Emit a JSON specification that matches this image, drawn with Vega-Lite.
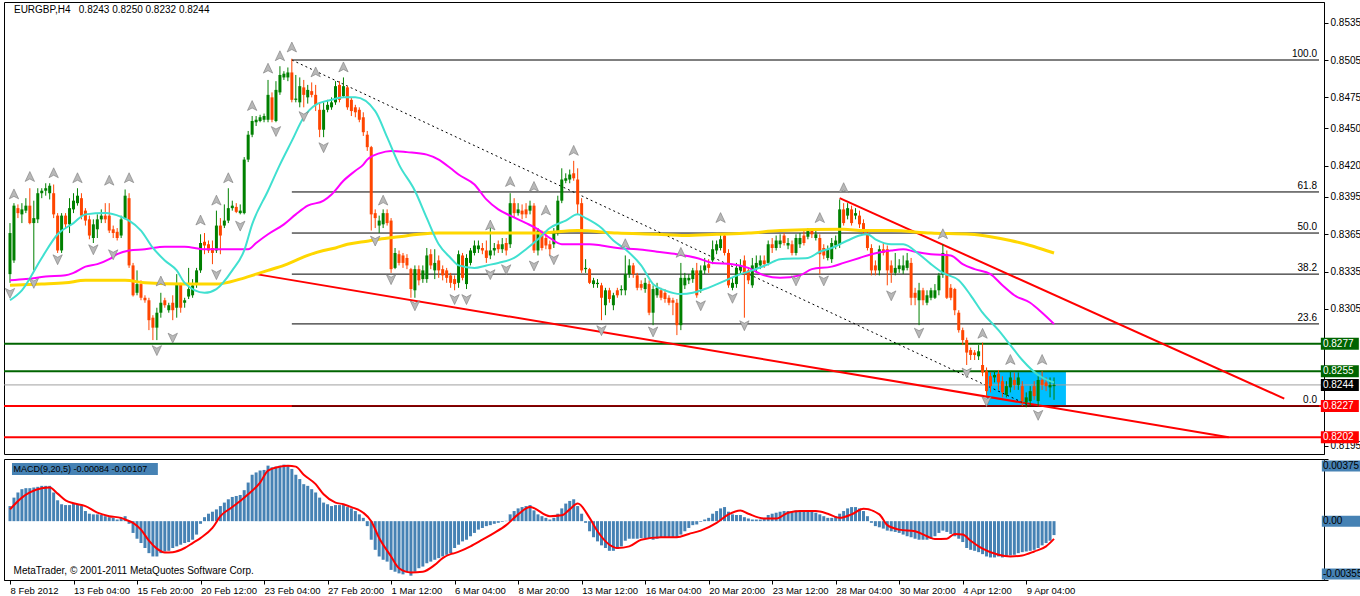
{
"$schema":"https://vega.github.io/schema/vega-lite/v6.json",
"background":"white",
"padding":{"left":2,"top":1,"right":0,"bottom":0},
"spacing":3,
"config":{"view":{"stroke":"#000000","strokeWidth":1},"axis":{"labelFont":"Liberation Sans","labelFontSize":10,"labelColor":"#000000","domainColor":"#000000","tickColor":"#000000","grid":false},"text":{"font":"Liberation Sans","fontSize":10}},
"datasets":{
"bars":[
{"i":0,"o":0.8333,"h":0.8374,"l":0.8326,"c":0.8366,"m":0.00091},
{"i":1,"o":0.8344,"h":0.8390,"l":0.8342,"c":0.8388,"m":0.00142},
{"i":2,"o":0.8386,"h":0.8389,"l":0.8378,"c":0.8382,"m":0.00173},
{"i":3,"o":0.8381,"h":0.8390,"l":0.8374,"c":0.8385,"m":0.00193},
{"i":4,"o":0.8384,"h":0.8394,"l":0.8382,"c":0.8388,"m":0.00199},
{"i":5,"o":0.8388,"h":0.8402,"l":0.8373,"c":0.8374,"m":0.00199},
{"i":6,"o":0.8374,"h":0.8392,"l":0.8336,"c":0.8378,"m":0.00203},
{"i":7,"o":0.8377,"h":0.8402,"l":0.8374,"c":0.8398,"m":0.00207},
{"i":8,"o":0.8398,"h":0.8402,"l":0.8394,"c":0.8400,"m":0.00213},
{"i":9,"o":0.8400,"h":0.8406,"l":0.8396,"c":0.8402,"m":0.00213},
{"i":10,"o":0.8398,"h":0.8406,"l":0.8393,"c":0.8404,"m":0.00213},
{"i":11,"o":0.8398,"h":0.8405,"l":0.8378,"c":0.8381,"m":0.00173},
{"i":12,"o":0.8380,"h":0.8382,"l":0.8350,"c":0.8352,"m":0.00126},
{"i":13,"o":0.8352,"h":0.8382,"l":0.8350,"c":0.8380,"m":0.00102},
{"i":14,"o":0.8380,"h":0.8382,"l":0.8370,"c":0.8373,"m":0.00097},
{"i":15,"o":0.8373,"h":0.8394,"l":0.8366,"c":0.8386,"m":0.00097},
{"i":16,"o":0.8385,"h":0.8398,"l":0.8382,"c":0.8392,"m":0.00106},
{"i":17,"o":0.8390,"h":0.8402,"l":0.8388,"c":0.8396,"m":0.00102},
{"i":18,"o":0.8394,"h":0.8398,"l":0.8377,"c":0.8380,"m":0.00091},
{"i":19,"o":0.8384,"h":0.8386,"l":0.8372,"c":0.8376,"m":0.00061},
{"i":20,"o":0.8377,"h":0.8380,"l":0.8361,"c":0.8364,"m":0.00045},
{"i":21,"o":0.8362,"h":0.8377,"l":0.8358,"c":0.8373,"m":0.00041},
{"i":22,"o":0.8369,"h":0.8381,"l":0.8362,"c":0.8377,"m":0.00041},
{"i":23,"o":0.8377,"h":0.8385,"l":0.8374,"c":0.8380,"m":0.00037},
{"i":24,"o":0.8380,"h":0.8390,"l":0.8374,"c":0.8377,"m":0.00030},
{"i":25,"o":0.8380,"h":0.8390,"l":0.8366,"c":0.8368,"m":0.00024},
{"i":26,"o":0.8369,"h":0.8372,"l":0.8362,"c":0.8366,"m":0.00020},
{"i":27,"o":0.8367,"h":0.8370,"l":0.8360,"c":0.8362,"m":0.00010},
{"i":28,"o":0.8364,"h":0.8380,"l":0.8362,"c":0.8377,"m":0.00020},
{"i":29,"o":0.8378,"h":0.8401,"l":0.8377,"c":0.8396,"m":0.00030},
{"i":30,"o":0.8394,"h":0.8398,"l":0.8338,"c":0.8340,"m":-0.00016},
{"i":31,"o":0.8340,"h":0.8342,"l":0.8315,"c":0.8316,"m":-0.00071},
{"i":32,"o":0.8318,"h":0.8336,"l":0.8316,"c":0.8325,"m":-0.00106},
{"i":33,"o":0.8325,"h":0.8328,"l":0.8312,"c":0.8314,"m":-0.00132},
{"i":34,"o":0.8314,"h":0.8316,"l":0.8310,"c":0.8312,"m":-0.00162},
{"i":35,"o":0.8312,"h":0.8314,"l":0.8288,"c":0.8296,"m":-0.00193},
{"i":36,"o":0.8298,"h":0.8300,"l":0.8280,"c":0.8290,"m":-0.00213},
{"i":37,"o":0.8290,"h":0.8306,"l":0.8280,"c":0.8302,"m":-0.00213},
{"i":38,"o":0.8302,"h":0.8318,"l":0.8298,"c":0.8310,"m":-0.00193},
{"i":39,"o":0.8312,"h":0.8314,"l":0.8306,"c":0.8308,"m":-0.00183},
{"i":40,"o":0.8304,"h":0.8310,"l":0.8302,"c":0.8308,"m":-0.00179},
{"i":41,"o":0.8310,"h":0.8316,"l":0.8296,"c":0.8304,"m":-0.00162},
{"i":42,"o":0.8306,"h":0.8333,"l":0.8298,"c":0.8325,"m":-0.00152},
{"i":43,"o":0.8325,"h":0.8326,"l":0.8302,"c":0.8306,"m":-0.00142},
{"i":44,"o":0.8310,"h":0.8314,"l":0.8306,"c":0.8312,"m":-0.00132},
{"i":45,"o":0.8315,"h":0.8338,"l":0.8313,"c":0.8321,"m":-0.00126},
{"i":46,"o":0.8316,"h":0.8329,"l":0.8314,"c":0.8324,"m":-0.00112},
{"i":47,"o":0.8325,"h":0.8338,"l":0.8322,"c":0.8336,"m":-0.00081},
{"i":48,"o":0.8336,"h":0.8365,"l":0.8334,"c":0.8358,"m":-0.00016},
{"i":49,"o":0.8359,"h":0.8366,"l":0.8349,"c":0.8356,"m":0.00024},
{"i":50,"o":0.8357,"h":0.8360,"l":0.8350,"c":0.8352,"m":0.00045},
{"i":51,"o":0.8354,"h":0.8360,"l":0.8341,"c":0.8350,"m":0.00057},
{"i":52,"o":0.8352,"h":0.8384,"l":0.8350,"c":0.8372,"m":0.00071},
{"i":53,"o":0.8372,"h":0.8378,"l":0.8349,"c":0.8364,"m":0.00091},
{"i":54,"o":0.8372,"h":0.8389,"l":0.8370,"c":0.8376,"m":0.00112},
{"i":55,"o":0.8376,"h":0.8402,"l":0.8374,"c":0.8386,"m":0.00132},
{"i":56,"o":0.8386,"h":0.8392,"l":0.8384,"c":0.8388,"m":0.00146},
{"i":57,"o":0.8387,"h":0.8390,"l":0.8382,"c":0.8383,"m":0.00152},
{"i":58,"o":0.8382,"h":0.8389,"l":0.8381,"c":0.8384,"m":0.00158},
{"i":59,"o":0.8382,"h":0.8427,"l":0.8381,"c":0.8425,"m":0.00187},
{"i":60,"o":0.8425,"h":0.8448,"l":0.8423,"c":0.8445,"m":0.00233},
{"i":61,"o":0.8445,"h":0.8460,"l":0.8443,"c":0.8456,"m":0.00280},
{"i":62,"o":0.8455,"h":0.8460,"l":0.8452,"c":0.8457,"m":0.00294},
{"i":63,"o":0.8456,"h":0.8461,"l":0.8455,"c":0.8459,"m":0.00305},
{"i":64,"o":0.8457,"h":0.8462,"l":0.8455,"c":0.8460,"m":0.00309},
{"i":65,"o":0.8457,"h":0.8489,"l":0.8455,"c":0.8477,"m":0.00335},
{"i":66,"o":0.8475,"h":0.8479,"l":0.8455,"c":0.8457,"m":0.00325},
{"i":67,"o":0.8456,"h":0.8488,"l":0.8455,"c":0.8481,"m":0.00329},
{"i":68,"o":0.8479,"h":0.8500,"l":0.8477,"c":0.8493,"m":0.00335},
{"i":69,"o":0.8491,"h":0.8496,"l":0.8489,"c":0.8494,"m":0.00341},
{"i":70,"o":0.8491,"h":0.8499,"l":0.8488,"c":0.8495,"m":0.00335},
{"i":71,"o":0.8495,"h":0.8506,"l":0.8471,"c":0.8473,"m":0.00315},
{"i":72,"o":0.8473,"h":0.8493,"l":0.8471,"c":0.8474,"m":0.00280},
{"i":73,"o":0.8471,"h":0.8491,"l":0.8467,"c":0.8484,"m":0.00254},
{"i":74,"o":0.8483,"h":0.8489,"l":0.8467,"c":0.8477,"m":0.00223},
{"i":75,"o":0.8475,"h":0.8485,"l":0.8470,"c":0.8481,"m":0.00213},
{"i":76,"o":0.8480,"h":0.8487,"l":0.8475,"c":0.8477,"m":0.00193},
{"i":77,"o":0.8477,"h":0.8485,"l":0.8464,"c":0.8469,"m":0.00173},
{"i":78,"o":0.8465,"h":0.8471,"l":0.8443,"c":0.8449,"m":0.00142},
{"i":79,"o":0.8449,"h":0.8471,"l":0.8443,"c":0.8465,"m":0.00112},
{"i":80,"o":0.8465,"h":0.8473,"l":0.8463,"c":0.8469,"m":0.00102},
{"i":81,"o":0.8467,"h":0.8475,"l":0.8465,"c":0.8471,"m":0.00091},
{"i":82,"o":0.8471,"h":0.8488,"l":0.8469,"c":0.8484,"m":0.00097},
{"i":83,"o":0.8485,"h":0.8488,"l":0.8471,"c":0.8473,"m":0.00097},
{"i":84,"o":0.8476,"h":0.8491,"l":0.8475,"c":0.8484,"m":0.00097},
{"i":85,"o":0.8483,"h":0.8484,"l":0.8465,"c":0.8467,"m":0.00085},
{"i":86,"o":0.8473,"h":0.8475,"l":0.8460,"c":0.8464,"m":0.00077},
{"i":87,"o":0.8467,"h":0.8469,"l":0.8459,"c":0.8463,"m":0.00061},
{"i":88,"o":0.8465,"h":0.8467,"l":0.8455,"c":0.8457,"m":0.00041},
{"i":89,"o":0.8459,"h":0.8463,"l":0.8444,"c":0.8447,"m":0.00020},
{"i":90,"o":0.8445,"h":0.8448,"l":0.8432,"c":0.8435,"m":-0.00030},
{"i":91,"o":0.8435,"h":0.8436,"l":0.8368,"c":0.8381,"m":-0.00112},
{"i":92,"o":0.8382,"h":0.8385,"l":0.8370,"c":0.8378,"m":-0.00173},
{"i":93,"o":0.8372,"h":0.8380,"l":0.8366,"c":0.8376,"m":-0.00213},
{"i":94,"o":0.8373,"h":0.8385,"l":0.8370,"c":0.8382,"m":-0.00233},
{"i":95,"o":0.8382,"h":0.8385,"l":0.8372,"c":0.8374,"m":-0.00244},
{"i":96,"o":0.8376,"h":0.8378,"l":0.8334,"c":0.8337,"m":-0.00294},
{"i":97,"o":0.8338,"h":0.8354,"l":0.8337,"c":0.8350,"m":-0.00305},
{"i":98,"o":0.8349,"h":0.8352,"l":0.8340,"c":0.8342,"m":-0.00315},
{"i":99,"o":0.8348,"h":0.8350,"l":0.8338,"c":0.8342,"m":-0.00321},
{"i":100,"o":0.8346,"h":0.8349,"l":0.8337,"c":0.8340,"m":-0.00309},
{"i":101,"o":0.8337,"h":0.8338,"l":0.8314,"c":0.8321,"m":-0.00329},
{"i":102,"o":0.8320,"h":0.8340,"l":0.8314,"c":0.8337,"m":-0.00305},
{"i":103,"o":0.8337,"h":0.8340,"l":0.8324,"c":0.8328,"m":-0.00284},
{"i":104,"o":0.8329,"h":0.8340,"l":0.8326,"c":0.8336,"m":-0.00274},
{"i":105,"o":0.8329,"h":0.8354,"l":0.8326,"c":0.8348,"m":-0.00254},
{"i":106,"o":0.8349,"h":0.8353,"l":0.8337,"c":0.8340,"m":-0.00244},
{"i":107,"o":0.8336,"h":0.8353,"l":0.8329,"c":0.8342,"m":-0.00233},
{"i":108,"o":0.8344,"h":0.8348,"l":0.8330,"c":0.8336,"m":-0.00223},
{"i":109,"o":0.8337,"h":0.8340,"l":0.8328,"c":0.8332,"m":-0.00213},
{"i":110,"o":0.8336,"h":0.8338,"l":0.8326,"c":0.8330,"m":-0.00203},
{"i":111,"o":0.8332,"h":0.8334,"l":0.8322,"c":0.8326,"m":-0.00193},
{"i":112,"o":0.8329,"h":0.8332,"l":0.8320,"c":0.8325,"m":-0.00162},
{"i":113,"o":0.8326,"h":0.8352,"l":0.8322,"c":0.8349,"m":-0.00142},
{"i":114,"o":0.8348,"h":0.8350,"l":0.8328,"c":0.8330,"m":-0.00122},
{"i":115,"o":0.8325,"h":0.8349,"l":0.8321,"c":0.8346,"m":-0.00112},
{"i":116,"o":0.8342,"h":0.8354,"l":0.8340,"c":0.8352,"m":-0.00091},
{"i":117,"o":0.8350,"h":0.8360,"l":0.8348,"c":0.8356,"m":-0.00071},
{"i":118,"o":0.8353,"h":0.8360,"l":0.8350,"c":0.8356,"m":-0.00051},
{"i":119,"o":0.8354,"h":0.8358,"l":0.8349,"c":0.8352,"m":-0.00041},
{"i":120,"o":0.8352,"h":0.8360,"l":0.8342,"c":0.8346,"m":-0.00030},
{"i":121,"o":0.8348,"h":0.8370,"l":0.8345,"c":0.8352,"m":-0.00024},
{"i":122,"o":0.8352,"h":0.8358,"l":0.8348,"c":0.8354,"m":-0.00016},
{"i":123,"o":0.8357,"h":0.8360,"l":0.8350,"c":0.8353,"m":-0.00010},
{"i":124,"o":0.8353,"h":0.8362,"l":0.8350,"c":0.8357,"m":-0.00004},
{"i":125,"o":0.8358,"h":0.8362,"l":0.8348,"c":0.8352,"m":0.00002},
{"i":126,"o":0.8357,"h":0.8398,"l":0.8354,"c":0.8390,"m":0.00041},
{"i":127,"o":0.8390,"h":0.8394,"l":0.8378,"c":0.8382,"m":0.00061},
{"i":128,"o":0.8382,"h":0.8390,"l":0.8380,"c":0.8385,"m":0.00077},
{"i":129,"o":0.8384,"h":0.8389,"l":0.8377,"c":0.8381,"m":0.00085},
{"i":130,"o":0.8385,"h":0.8390,"l":0.8378,"c":0.8381,"m":0.00091},
{"i":131,"o":0.8384,"h":0.8392,"l":0.8381,"c":0.8388,"m":0.00097},
{"i":132,"o":0.8388,"h":0.8390,"l":0.8350,"c":0.8352,"m":0.00065},
{"i":133,"o":0.8352,"h":0.8370,"l":0.8348,"c":0.8368,"m":0.00041},
{"i":134,"o":0.8365,"h":0.8368,"l":0.8352,"c":0.8354,"m":0.00030},
{"i":135,"o":0.8362,"h":0.8365,"l":0.8353,"c":0.8356,"m":0.00020},
{"i":136,"o":0.8357,"h":0.8360,"l":0.8348,"c":0.8353,"m":0.00010},
{"i":137,"o":0.8357,"h":0.8370,"l":0.8354,"c":0.8366,"m":0.00020},
{"i":138,"o":0.8366,"h":0.8396,"l":0.8364,"c":0.8392,"m":0.00045},
{"i":139,"o":0.8392,"h":0.8418,"l":0.8390,"c":0.8409,"m":0.00077},
{"i":140,"o":0.8408,"h":0.8414,"l":0.8406,"c":0.8410,"m":0.00106},
{"i":141,"o":0.8409,"h":0.8417,"l":0.8406,"c":0.8413,"m":0.00122},
{"i":142,"o":0.8414,"h":0.8424,"l":0.8408,"c":0.8410,"m":0.00132},
{"i":143,"o":0.8409,"h":0.8418,"l":0.8381,"c":0.8389,"m":0.00091},
{"i":144,"o":0.8390,"h":0.8394,"l":0.8334,"c":0.8336,"m":0.00045},
{"i":145,"o":0.8337,"h":0.8345,"l":0.8334,"c":0.8338,"m":-0.00010},
{"i":146,"o":0.8337,"h":0.8338,"l":0.8325,"c":0.8326,"m":-0.00061},
{"i":147,"o":0.8325,"h":0.8330,"l":0.8322,"c":0.8328,"m":-0.00097},
{"i":148,"o":0.8325,"h":0.8329,"l":0.8322,"c":0.8326,"m":-0.00122},
{"i":149,"o":0.8324,"h":0.8326,"l":0.8296,"c":0.8314,"m":-0.00146},
{"i":150,"o":0.8308,"h":0.8322,"l":0.8300,"c":0.8320,"m":-0.00162},
{"i":151,"o":0.8320,"h":0.8322,"l":0.8310,"c":0.8313,"m":-0.00179},
{"i":152,"o":0.8308,"h":0.8318,"l":0.8304,"c":0.8316,"m":-0.00179},
{"i":153,"o":0.8320,"h":0.8322,"l":0.8314,"c":0.8316,"m":-0.00168},
{"i":154,"o":0.8320,"h":0.8324,"l":0.8316,"c":0.8321,"m":-0.00152},
{"i":155,"o":0.8320,"h":0.8348,"l":0.8316,"c":0.8333,"m":-0.00118},
{"i":156,"o":0.8333,"h":0.8345,"l":0.8330,"c":0.8340,"m":-0.00106},
{"i":157,"o":0.8340,"h":0.8342,"l":0.8330,"c":0.8333,"m":-0.00106},
{"i":158,"o":0.8332,"h":0.8334,"l":0.8320,"c":0.8322,"m":-0.00106},
{"i":159,"o":0.8325,"h":0.8328,"l":0.8320,"c":0.8322,"m":-0.00102},
{"i":160,"o":0.8321,"h":0.8330,"l":0.8318,"c":0.8326,"m":-0.00102},
{"i":161,"o":0.8325,"h":0.8328,"l":0.8300,"c":0.8302,"m":-0.00106},
{"i":162,"o":0.8302,"h":0.8324,"l":0.8292,"c":0.8321,"m":-0.00112},
{"i":163,"o":0.8316,"h":0.8326,"l":0.8314,"c":0.8322,"m":-0.00106},
{"i":164,"o":0.8320,"h":0.8322,"l":0.8312,"c":0.8314,"m":-0.00097},
{"i":165,"o":0.8318,"h":0.8321,"l":0.8310,"c":0.8313,"m":-0.00097},
{"i":166,"o":0.8314,"h":0.8316,"l":0.8308,"c":0.8310,"m":-0.00097},
{"i":167,"o":0.8312,"h":0.8314,"l":0.8300,"c":0.8310,"m":-0.00097},
{"i":168,"o":0.8310,"h":0.8313,"l":0.8284,"c":0.8292,"m":-0.00097},
{"i":169,"o":0.8292,"h":0.8342,"l":0.8288,"c":0.8330,"m":-0.00081},
{"i":170,"o":0.8324,"h":0.8334,"l":0.8321,"c":0.8330,"m":-0.00061},
{"i":171,"o":0.8328,"h":0.8333,"l":0.8325,"c":0.8330,"m":-0.00041},
{"i":172,"o":0.8329,"h":0.8338,"l":0.8326,"c":0.8336,"m":-0.00024},
{"i":173,"o":0.8336,"h":0.8342,"l":0.8314,"c":0.8316,"m":-0.00020},
{"i":174,"o":0.8321,"h":0.8340,"l":0.8318,"c":0.8336,"m":-0.00004},
{"i":175,"o":0.8336,"h":0.8346,"l":0.8333,"c":0.8340,"m":0.00010},
{"i":176,"o":0.8341,"h":0.8345,"l":0.8334,"c":0.8338,"m":0.00020},
{"i":177,"o":0.8344,"h":0.8360,"l":0.8341,"c":0.8353,"m":0.00045},
{"i":178,"o":0.8352,"h":0.8360,"l":0.8349,"c":0.8357,"m":0.00061},
{"i":179,"o":0.8354,"h":0.8365,"l":0.8352,"c":0.8361,"m":0.00077},
{"i":180,"o":0.8364,"h":0.8366,"l":0.8348,"c":0.8350,"m":0.00085},
{"i":181,"o":0.8350,"h":0.8353,"l":0.8322,"c":0.8324,"m":0.00057},
{"i":182,"o":0.8322,"h":0.8330,"l":0.8320,"c":0.8326,"m":0.00041},
{"i":183,"o":0.8325,"h":0.8342,"l":0.8322,"c":0.8338,"m":0.00037},
{"i":184,"o":0.8336,"h":0.8345,"l":0.8333,"c":0.8340,"m":0.00037},
{"i":185,"o":0.8344,"h":0.8348,"l":0.8298,"c":0.8333,"m":0.00024},
{"i":186,"o":0.8336,"h":0.8338,"l":0.8325,"c":0.8328,"m":0.00016},
{"i":187,"o":0.8324,"h":0.8346,"l":0.8322,"c":0.8340,"m":0.00010},
{"i":188,"o":0.8337,"h":0.8348,"l":0.8334,"c":0.8342,"m":0.00010},
{"i":189,"o":0.8340,"h":0.8348,"l":0.8337,"c":0.8344,"m":0.00010},
{"i":190,"o":0.8344,"h":0.8348,"l":0.8338,"c":0.8341,"m":0.00020},
{"i":191,"o":0.8342,"h":0.8360,"l":0.8340,"c":0.8357,"m":0.00037},
{"i":192,"o":0.8357,"h":0.8362,"l":0.8350,"c":0.8354,"m":0.00045},
{"i":193,"o":0.8354,"h":0.8364,"l":0.8352,"c":0.8360,"m":0.00051},
{"i":194,"o":0.8357,"h":0.8365,"l":0.8354,"c":0.8360,"m":0.00057},
{"i":195,"o":0.8364,"h":0.8366,"l":0.8356,"c":0.8358,"m":0.00061},
{"i":196,"o":0.8356,"h":0.8362,"l":0.8353,"c":0.8358,"m":0.00061},
{"i":197,"o":0.8357,"h":0.8360,"l":0.8348,"c":0.8350,"m":0.00061},
{"i":198,"o":0.8350,"h":0.8365,"l":0.8348,"c":0.8362,"m":0.00065},
{"i":199,"o":0.8357,"h":0.8366,"l":0.8354,"c":0.8362,"m":0.00065},
{"i":200,"o":0.8364,"h":0.8368,"l":0.8356,"c":0.8358,"m":0.00065},
{"i":201,"o":0.8363,"h":0.8370,"l":0.8361,"c":0.8368,"m":0.00065},
{"i":202,"o":0.8368,"h":0.8370,"l":0.8362,"c":0.8365,"m":0.00057},
{"i":203,"o":0.8362,"h":0.8368,"l":0.8360,"c":0.8365,"m":0.00051},
{"i":204,"o":0.8362,"h":0.8365,"l":0.8333,"c":0.8349,"m":0.00041},
{"i":205,"o":0.8354,"h":0.8357,"l":0.8345,"c":0.8348,"m":0.00030},
{"i":206,"o":0.8346,"h":0.8356,"l":0.8344,"c":0.8353,"m":0.00020},
{"i":207,"o":0.8345,"h":0.8362,"l":0.8342,"c":0.8358,"m":0.00020},
{"i":208,"o":0.8356,"h":0.8364,"l":0.8353,"c":0.8360,"m":0.00030},
{"i":209,"o":0.8357,"h":0.8393,"l":0.8354,"c":0.8385,"m":0.00045},
{"i":210,"o":0.8385,"h":0.8390,"l":0.8372,"c":0.8374,"m":0.00061},
{"i":211,"o":0.8380,"h":0.8390,"l":0.8377,"c":0.8386,"m":0.00077},
{"i":212,"o":0.8385,"h":0.8388,"l":0.8372,"c":0.8374,"m":0.00085},
{"i":213,"o":0.8380,"h":0.8386,"l":0.8377,"c":0.8382,"m":0.00085},
{"i":214,"o":0.8380,"h":0.8384,"l":0.8370,"c":0.8373,"m":0.00077},
{"i":215,"o":0.8374,"h":0.8377,"l":0.8365,"c":0.8368,"m":0.00061},
{"i":216,"o":0.8365,"h":0.8368,"l":0.8352,"c":0.8354,"m":0.00030},
{"i":217,"o":0.8354,"h":0.8357,"l":0.8332,"c":0.8336,"m":-0.00010},
{"i":218,"o":0.8340,"h":0.8344,"l":0.8332,"c":0.8336,"m":-0.00030},
{"i":219,"o":0.8336,"h":0.8356,"l":0.8332,"c":0.8353,"m":-0.00037},
{"i":220,"o":0.8353,"h":0.8358,"l":0.8348,"c":0.8350,"m":-0.00045},
{"i":221,"o":0.8353,"h":0.8356,"l":0.8324,"c":0.8336,"m":-0.00057},
{"i":222,"o":0.8340,"h":0.8344,"l":0.8326,"c":0.8334,"m":-0.00061},
{"i":223,"o":0.8334,"h":0.8350,"l":0.8332,"c":0.8338,"m":-0.00065},
{"i":224,"o":0.8337,"h":0.8345,"l":0.8334,"c":0.8340,"m":-0.00071},
{"i":225,"o":0.8336,"h":0.8348,"l":0.8333,"c":0.8340,"m":-0.00081},
{"i":226,"o":0.8338,"h":0.8350,"l":0.8336,"c":0.8344,"m":-0.00091},
{"i":227,"o":0.8342,"h":0.8346,"l":0.8308,"c":0.8314,"m":-0.00097},
{"i":228,"o":0.8318,"h":0.8322,"l":0.8308,"c":0.8314,"m":-0.00106},
{"i":229,"o":0.8312,"h":0.8326,"l":0.8292,"c":0.8320,"m":-0.00112},
{"i":230,"o":0.8320,"h":0.8322,"l":0.8308,"c":0.8312,"m":-0.00112},
{"i":231,"o":0.8310,"h":0.8320,"l":0.8308,"c":0.8316,"m":-0.00112},
{"i":232,"o":0.8314,"h":0.8322,"l":0.8312,"c":0.8320,"m":-0.00106},
{"i":233,"o":0.8314,"h":0.8325,"l":0.8313,"c":0.8320,"m":-0.00091},
{"i":234,"o":0.8320,"h":0.8334,"l":0.8316,"c":0.8332,"m":-0.00071},
{"i":235,"o":0.8333,"h":0.8357,"l":0.8330,"c":0.8350,"m":-0.00057},
{"i":236,"o":0.8349,"h":0.8352,"l":0.8313,"c":0.8314,"m":-0.00065},
{"i":237,"o":0.8322,"h":0.8325,"l":0.8312,"c":0.8314,"m":-0.00077},
{"i":238,"o":0.8321,"h":0.8322,"l":0.8300,"c":0.8304,"m":-0.00091},
{"i":239,"o":0.8302,"h":0.8304,"l":0.8286,"c":0.8288,"m":-0.00106},
{"i":240,"o":0.8288,"h":0.8290,"l":0.8276,"c":0.8280,"m":-0.00126},
{"i":241,"o":0.8280,"h":0.8282,"l":0.8260,"c":0.8270,"m":-0.00162},
{"i":242,"o":0.8272,"h":0.8274,"l":0.8264,"c":0.8268,"m":-0.00173},
{"i":243,"o":0.8270,"h":0.8272,"l":0.8264,"c":0.8268,"m":-0.00179},
{"i":244,"o":0.8267,"h":0.8276,"l":0.8264,"c":0.8271,"m":-0.00187},
{"i":245,"o":0.8260,"h":0.8278,"l":0.8251,"c":0.8254,"m":-0.00199},
{"i":246,"o":0.8255,"h":0.8258,"l":0.8235,"c":0.8239,"m":-0.00213},
{"i":247,"o":0.8251,"h":0.8254,"l":0.8238,"c":0.8243,"m":-0.00219},
{"i":248,"o":0.8250,"h":0.8255,"l":0.8246,"c":0.8252,"m":-0.00219},
{"i":249,"o":0.8253,"h":0.8256,"l":0.8240,"c":0.8246,"m":-0.00213},
{"i":250,"o":0.8247,"h":0.8251,"l":0.8234,"c":0.8238,"m":-0.00219},
{"i":251,"o":0.8236,"h":0.8247,"l":0.8234,"c":0.8243,"m":-0.00213},
{"i":252,"o":0.8242,"h":0.8255,"l":0.8238,"c":0.8250,"m":-0.00207},
{"i":253,"o":0.8248,"h":0.8254,"l":0.8240,"c":0.8244,"m":-0.00203},
{"i":254,"o":0.8244,"h":0.8254,"l":0.8240,"c":0.8250,"m":-0.00193},
{"i":255,"o":0.8243,"h":0.8247,"l":0.8227,"c":0.8231,"m":-0.00187},
{"i":256,"o":0.8230,"h":0.8238,"l":0.8226,"c":0.8234,"m":-0.00183},
{"i":257,"o":0.8231,"h":0.8243,"l":0.8227,"c":0.8239,"m":-0.00179},
{"i":258,"o":0.8243,"h":0.8247,"l":0.8232,"c":0.8235,"m":-0.00173},
{"i":259,"o":0.8231,"h":0.8251,"l":0.8227,"c":0.8248,"m":-0.00162},
{"i":260,"o":0.8248,"h":0.8255,"l":0.8240,"c":0.8244,"m":-0.00146},
{"i":261,"o":0.8246,"h":0.8250,"l":0.8239,"c":0.8243,"m":-0.00132},
{"i":262,"o":0.8242,"h":0.8250,"l":0.8234,"c":0.8244,"m":-0.00118},
{"i":263,"o":0.8243,"h":0.8250,"l":0.8232,"c":0.8244,"m":-0.00084}
],
"sig":[
{"i":0,"v":0.00071},{"i":3,"v":0.00142},{"i":5,"v":0.00173},{"i":8,"v":0.00199},{"i":10,"v":0.00203},{"i":12,"v":0.00166},{"i":14,"v":0.00126},{"i":16,"v":0.00108},{"i":19,"v":0.00091},{"i":22,"v":0.00051},{"i":25,"v":0.0003},{"i":28,"v":0.0002},{"i":29,"v":0.0001},{"i":31,"v":-0.0001},{"i":33,"v":-0.00051},{"i":35,"v":-0.00118},{"i":37,"v":-0.00166},{"i":39,"v":-0.00189},{"i":41,"v":-0.00187},{"i":44,"v":-0.00162},{"i":46,"v":-0.00132},{"i":48,"v":-0.00102},{"i":51,"v":-0.00041},{"i":53,"v":0.0003},{"i":56,"v":0.00085},{"i":58,"v":0.00122},{"i":60,"v":0.00162},{"i":63,"v":0.00233},{"i":65,"v":0.00305},{"i":68,"v":0.00329},{"i":70,"v":0.00335},{"i":72,"v":0.00329},{"i":74,"v":0.0028},{"i":77,"v":0.00223},{"i":79,"v":0.00162},{"i":82,"v":0.00112},{"i":84,"v":0.00102},{"i":86,"v":0.00085},{"i":89,"v":0.00051},{"i":91,"v":0},{"i":93,"v":-0.00102},{"i":96,"v":-0.00213},{"i":98,"v":-0.00284},{"i":101,"v":-0.00309},{"i":104,"v":-0.00305},{"i":107,"v":-0.00264},{"i":109,"v":-0.00223},{"i":111,"v":-0.00199},{"i":112,"v":-0.00193},{"i":116,"v":-0.00152},{"i":119,"v":-0.00112},{"i":122,"v":-0.00071},{"i":125,"v":-0.00024},{"i":128,"v":0.00041},{"i":131,"v":0.00085},{"i":136,"v":0.0003},{"i":139,"v":0.00035},{"i":141,"v":0.00071},{"i":143,"v":0.00106},{"i":146,"v":0.0002},{"i":148,"v":-0.00061},{"i":151,"v":-0.00142},{"i":153,"v":-0.00162},{"i":156,"v":-0.00152},{"i":159,"v":-0.00112},{"i":164,"v":-0.00097},{"i":168,"v":-0.00097},{"i":171,"v":-0.00077},{"i":174,"v":-0.00057},{"i":178,"v":-0.0001},{"i":181,"v":0.00041},{"i":184,"v":0.00065},{"i":186,"v":0.00045},{"i":190,"v":0.00016},{"i":193,"v":0.00016},{"i":196,"v":0.00051},{"i":199,"v":0.00061},{"i":203,"v":0.00061},{"i":206,"v":0.00045},{"i":209,"v":0.0002},{"i":212,"v":0.00041},{"i":215,"v":0.00075},{"i":219,"v":0.00041},{"i":221,"v":-0.00024},{"i":224,"v":-0.00051},{"i":228,"v":-0.00061},{"i":231,"v":-0.00091},{"i":233,"v":-0.00108},{"i":236,"v":-0.00106},{"i":238,"v":-0.00077},{"i":240,"v":-0.00081},{"i":242,"v":-0.00118},{"i":245,"v":-0.00166},{"i":249,"v":-0.00203},{"i":252,"v":-0.00213},{"i":255,"v":-0.00207},{"i":258,"v":-0.00183},{"i":261,"v":-0.00152},{"i":263,"v":-0.00107}
],
"ma":[
{"i":0,"p":0.8312,"s":"c"},{"i":3,"p":0.832,"s":"c"},{"i":8,"p":0.8346,"s":"c"},{"i":12,"p":0.8365,"s":"c"},{"i":16,"p":0.8374,"s":"c"},{"i":19,"p":0.8381,"s":"c"},{"i":24,"p":0.8382,"s":"c"},{"i":28,"p":0.8379,"s":"c"},{"i":30,"p":0.8376,"s":"c"},{"i":33,"p":0.8368,"s":"c"},{"i":36,"p":0.8354,"s":"c"},{"i":39,"p":0.8344,"s":"c"},{"i":42,"p":0.8336,"s":"c"},{"i":44,"p":0.8326,"s":"c"},{"i":49,"p":0.8318,"s":"c"},{"i":52,"p":0.8321,"s":"c"},{"i":56,"p":0.8336,"s":"c"},{"i":59,"p":0.8352,"s":"c"},{"i":61,"p":0.8373,"s":"c"},{"i":65,"p":0.84,"s":"c"},{"i":68,"p":0.8421,"s":"c"},{"i":71,"p":0.844,"s":"c"},{"i":74,"p":0.8459,"s":"c"},{"i":77,"p":0.8469,"s":"c"},{"i":81,"p":0.8473,"s":"c"},{"i":84,"p":0.8475,"s":"c"},{"i":87,"p":0.8475,"s":"c"},{"i":92,"p":0.8464,"s":"c"},{"i":95,"p":0.8443,"s":"c"},{"i":98,"p":0.8421,"s":"c"},{"i":102,"p":0.84,"s":"c"},{"i":105,"p":0.8378,"s":"c"},{"i":108,"p":0.8357,"s":"c"},{"i":111,"p":0.8346,"s":"c"},{"i":113,"p":0.834,"s":"c"},{"i":117,"p":0.8338,"s":"c"},{"i":120,"p":0.834,"s":"c"},{"i":123,"p":0.8342,"s":"c"},{"i":127,"p":0.8346,"s":"c"},{"i":130,"p":0.8353,"s":"c"},{"i":133,"p":0.8361,"s":"c"},{"i":136,"p":0.837,"s":"c"},{"i":140,"p":0.8376,"s":"c"},{"i":143,"p":0.8381,"s":"c"},{"i":145,"p":0.8378,"s":"c"},{"i":149,"p":0.837,"s":"c"},{"i":152,"p":0.836,"s":"c"},{"i":155,"p":0.8353,"s":"c"},{"i":159,"p":0.834,"s":"c"},{"i":162,"p":0.8325,"s":"c"},{"i":165,"p":0.832,"s":"c"},{"i":169,"p":0.8317,"s":"c"},{"i":172,"p":0.8318,"s":"c"},{"i":175,"p":0.8321,"s":"c"},{"i":181,"p":0.8329,"s":"c"},{"i":184,"p":0.8333,"s":"c"},{"i":187,"p":0.8336,"s":"c"},{"i":191,"p":0.8341,"s":"c"},{"i":194,"p":0.8345,"s":"c"},{"i":201,"p":0.8346,"s":"c"},{"i":204,"p":0.8351,"s":"c"},{"i":207,"p":0.8354,"s":"c"},{"i":211,"p":0.836,"s":"c"},{"i":214,"p":0.8364,"s":"c"},{"i":216,"p":0.8365,"s":"c"},{"i":218,"p":0.8361,"s":"c"},{"i":222,"p":0.8357,"s":"c"},{"i":225,"p":0.8357,"s":"c"},{"i":229,"p":0.8349,"s":"c"},{"i":232,"p":0.8341,"s":"c"},{"i":235,"p":0.8334,"s":"c"},{"i":239,"p":0.8328,"s":"c"},{"i":242,"p":0.8316,"s":"c"},{"i":245,"p":0.8302,"s":"c"},{"i":249,"p":0.8288,"s":"c"},{"i":252,"p":0.8276,"s":"c"},{"i":255,"p":0.8264,"s":"c"},{"i":259,"p":0.8252,"s":"c"},{"i":262,"p":0.8247,"s":"c"},{"i":263,"p":0.8246,"s":"c"},
{"i":0,"p":0.8328,"s":"m"},{"i":4,"p":0.8329,"s":"m"},{"i":9,"p":0.8331,"s":"m"},{"i":14,"p":0.8332,"s":"m"},{"i":16,"p":0.8334,"s":"m"},{"i":19,"p":0.8339,"s":"m"},{"i":22,"p":0.8341,"s":"m"},{"i":25,"p":0.8345,"s":"m"},{"i":27,"p":0.8349,"s":"m"},{"i":30,"p":0.8352,"s":"m"},{"i":34,"p":0.8353,"s":"m"},{"i":39,"p":0.8355,"s":"m"},{"i":44,"p":0.8355,"s":"m"},{"i":49,"p":0.8353,"s":"m"},{"i":60,"p":0.8353,"s":"m"},{"i":62,"p":0.8358,"s":"m"},{"i":65,"p":0.8365,"s":"m"},{"i":69,"p":0.8373,"s":"m"},{"i":72,"p":0.8381,"s":"m"},{"i":75,"p":0.8388,"s":"m"},{"i":79,"p":0.8392,"s":"m"},{"i":81,"p":0.8397,"s":"m"},{"i":84,"p":0.8408,"s":"m"},{"i":87,"p":0.8416,"s":"m"},{"i":89,"p":0.8421,"s":"m"},{"i":90,"p":0.8425,"s":"m"},{"i":93,"p":0.843,"s":"m"},{"i":96,"p":0.8432,"s":"m"},{"i":100,"p":0.8431,"s":"m"},{"i":105,"p":0.8429,"s":"m"},{"i":108,"p":0.8425,"s":"m"},{"i":111,"p":0.8418,"s":"m"},{"i":113,"p":0.8413,"s":"m"},{"i":117,"p":0.8405,"s":"m"},{"i":120,"p":0.8393,"s":"m"},{"i":123,"p":0.8385,"s":"m"},{"i":126,"p":0.838,"s":"m"},{"i":130,"p":0.8374,"s":"m"},{"i":133,"p":0.8369,"s":"m"},{"i":136,"p":0.8362,"s":"m"},{"i":139,"p":0.8357,"s":"m"},{"i":143,"p":0.8357,"s":"m"},{"i":146,"p":0.8357,"s":"m"},{"i":149,"p":0.8356,"s":"m"},{"i":153,"p":0.8354,"s":"m"},{"i":158,"p":0.8353,"s":"m"},{"i":163,"p":0.8351,"s":"m"},{"i":168,"p":0.8349,"s":"m"},{"i":173,"p":0.8346,"s":"m"},{"i":177,"p":0.8342,"s":"m"},{"i":182,"p":0.8341,"s":"m"},{"i":186,"p":0.8338,"s":"m"},{"i":190,"p":0.8332,"s":"m"},{"i":194,"p":0.833,"s":"m"},{"i":199,"p":0.8332,"s":"m"},{"i":202,"p":0.8337,"s":"m"},{"i":207,"p":0.8339,"s":"m"},{"i":210,"p":0.8342,"s":"m"},{"i":214,"p":0.8346,"s":"m"},{"i":217,"p":0.8349,"s":"m"},{"i":222,"p":0.8352,"s":"m"},{"i":225,"p":0.8353,"s":"m"},{"i":228,"p":0.8351,"s":"m"},{"i":232,"p":0.8349,"s":"m"},{"i":237,"p":0.8348,"s":"m"},{"i":240,"p":0.8341,"s":"m"},{"i":243,"p":0.8337,"s":"m"},{"i":247,"p":0.8333,"s":"m"},{"i":250,"p":0.8324,"s":"m"},{"i":253,"p":0.8316,"s":"m"},{"i":257,"p":0.831,"s":"m"},{"i":260,"p":0.8302,"s":"m"},{"i":263,"p":0.8293,"s":"m"},
{"i":0,"p":0.8324,"s":"y"},{"i":8,"p":0.8325,"s":"y"},{"i":14,"p":0.8326,"s":"y"},{"i":19,"p":0.8328,"s":"y"},{"i":29,"p":0.8328,"s":"y"},{"i":34,"p":0.8326,"s":"y"},{"i":44,"p":0.8325,"s":"y"},{"i":52,"p":0.8325,"s":"y"},{"i":58,"p":0.8329,"s":"y"},{"i":62,"p":0.8333,"s":"y"},{"i":65,"p":0.8336,"s":"y"},{"i":69,"p":0.834,"s":"y"},{"i":72,"p":0.8344,"s":"y"},{"i":75,"p":0.8348,"s":"y"},{"i":79,"p":0.8352,"s":"y"},{"i":82,"p":0.8354,"s":"y"},{"i":85,"p":0.8357,"s":"y"},{"i":89,"p":0.8359,"s":"y"},{"i":93,"p":0.8361,"s":"y"},{"i":98,"p":0.8363,"s":"y"},{"i":103,"p":0.8365,"s":"y"},{"i":108,"p":0.8366,"s":"y"},{"i":118,"p":0.8366,"s":"y"},{"i":133,"p":0.8366,"s":"y"},{"i":143,"p":0.8368,"s":"y"},{"i":153,"p":0.8366,"s":"y"},{"i":163,"p":0.8365,"s":"y"},{"i":170,"p":0.8364,"s":"y"},{"i":178,"p":0.8365,"s":"y"},{"i":186,"p":0.8366,"s":"y"},{"i":194,"p":0.8368,"s":"y"},{"i":210,"p":0.8369,"s":"y"},{"i":215,"p":0.8368,"s":"y"},{"i":222,"p":0.8368,"s":"y"},{"i":232,"p":0.8366,"s":"y"},{"i":242,"p":0.8365,"s":"y"},{"i":247,"p":0.8363,"s":"y"},{"i":252,"p":0.836,"s":"y"},{"i":257,"p":0.8356,"s":"y"},{"i":261,"p":0.8352,"s":"y"},{"i":263,"p":0.835,"s":"y"}
],
"fr":[
{"i":1,"p":0.8397,"d":"up"},{"i":5,"p":0.8411,"d":"up"},{"i":11,"p":0.8414,"d":"up"},{"i":17,"p":0.841,"d":"up"},{"i":25,"p":0.8408,"d":"up"},{"i":30,"p":0.841,"d":"up"},{"i":38,"p":0.8327,"d":"up"},{"i":48,"p":0.8376,"d":"up"},{"i":52,"p":0.8392,"d":"up"},{"i":55,"p":0.841,"d":"up"},{"i":61,"p":0.8468,"d":"up"},{"i":65,"p":0.8498,"d":"up"},{"i":68,"p":0.8508,"d":"up"},{"i":71,"p":0.8515,"d":"up"},{"i":77,"p":0.8495,"d":"up"},{"i":84,"p":0.8499,"d":"up"},{"i":94,"p":0.8392,"d":"up"},{"i":121,"p":0.8372,"d":"up"},{"i":126,"p":0.8407,"d":"up"},{"i":132,"p":0.8403,"d":"up"},{"i":135,"p":0.8384,"d":"up"},{"i":142,"p":0.8432,"d":"up"},{"i":155,"p":0.8357,"d":"up"},{"i":169,"p":0.835,"d":"up"},{"i":179,"p":0.8378,"d":"up"},{"i":204,"p":0.8378,"d":"up"},{"i":210,"p":0.8402,"d":"up"},{"i":235,"p":0.8365,"d":"up"},{"i":245,"p":0.8285,"d":"up"},{"i":252,"p":0.8264,"d":"up"},{"i":260,"p":0.8264,"d":"up"},
{"i":0,"p":0.8318,"d":"dn"},{"i":6,"p":0.8326,"d":"dn"},{"i":12,"p":0.8345,"d":"dn"},{"i":21,"p":0.8353,"d":"dn"},{"i":26,"p":0.8349,"d":"dn"},{"i":37,"p":0.8272,"d":"dn"},{"i":41,"p":0.8282,"d":"dn"},{"i":52,"p":0.8333,"d":"dn"},{"i":58,"p":0.8372,"d":"dn"},{"i":67,"p":0.8448,"d":"dn"},{"i":74,"p":0.846,"d":"dn"},{"i":79,"p":0.8435,"d":"dn"},{"i":92,"p":0.836,"d":"dn"},{"i":96,"p":0.8329,"d":"dn"},{"i":102,"p":0.8308,"d":"dn"},{"i":112,"p":0.8313,"d":"dn"},{"i":115,"p":0.8313,"d":"dn"},{"i":121,"p":0.8333,"d":"dn"},{"i":125,"p":0.8337,"d":"dn"},{"i":132,"p":0.834,"d":"dn"},{"i":137,"p":0.8345,"d":"dn"},{"i":149,"p":0.8288,"d":"dn"},{"i":162,"p":0.8287,"d":"dn"},{"i":174,"p":0.8308,"d":"dn"},{"i":182,"p":0.8314,"d":"dn"},{"i":185,"p":0.8292,"d":"dn"},{"i":198,"p":0.8328,"d":"dn"},{"i":205,"p":0.8328,"d":"dn"},{"i":222,"p":0.8316,"d":"dn"},{"i":229,"p":0.8286,"d":"dn"},{"i":241,"p":0.8254,"d":"dn"},{"i":246,"p":0.8231,"d":"dn"},{"i":259,"p":0.822,"d":"dn"}
],
"lv":[{"p":0.8277,"k":"g"},{"p":0.8255,"k":"g"},{"p":0.8244,"k":"b"},{"p":0.8227,"k":"r"},{"p":0.8202,"k":"r"}],
"fib":[{"t":"100.0","p":0.8505},{"t":"61.8","p":0.8399},{"t":"50.0","p":0.8366},{"t":"38.2","p":0.8333},{"t":"23.6","p":0.8293},{"t":"0.0","p":0.8227}],
"tl":[{"id":"a","i":62,"p":0.8333},{"id":"a","i":307,"p":0.8202},{"id":"b","i":209,"p":0.8394},{"id":"b","i":321,"p":0.8233}],
"dl":[{"i":71,"p":0.8505},{"i":257,"p":0.8227}],
"box":[{"i1":246,"i2":266,"p1":0.8255,"p2":0.8227}],
"ml":[{"p":0.00333,"t":"0.00375"},{"p":0,"t":"0.00"},{"p":-0.00319,"t":"-0.00355"}]
},
"vconcat":[
{
"width":1320,"height":452,
"resolve":{"axis":{"x":"independent","y":"independent"}},
"layer":[
{"data":{"name":"box"},"mark":{"type":"rect","color":"#00BFFF"},
 "encoding":{"x":{"field":"i1","type":"quantitative","scale":{"domain":[-0.25,329.75],"nice":false,"zero":false},"axis":null},"x2":{"field":"i2"},
 "y":{"field":"p1","type":"quantitative","scale":{"domain":[0.81885,0.85516],"nice":false,"zero":false},
   "axis":{"orient":"right","title":null,"values":[0.8535,0.8505,0.8475,0.845,0.842,0.8395,0.8365,0.8335,0.8305,0.8195],"format":".4f","tickSize":4,"labelPadding":2,"labelOverlap":false,"labelBound":false,"labelFlush":false}},
 "y2":{"field":"p2"}}},
{"data":{"name":"lv"},"mark":{"type":"rule"},
 "encoding":{"y":{"field":"p","type":"quantitative","scale":{"domain":[0.81885,0.85516],"nice":false,"zero":false},"axis":null},
 "color":{"condition":[{"test":"datum.k=='g'","value":"#006400"},{"test":"datum.k=='r'","value":"#FF0000"}],"value":"#A0A0A0"},
 "strokeWidth":{"condition":{"test":"datum.k=='b'","value":1},"value":2}}},
{"data":{"name":"fib"},"mark":{"type":"rule","color":"#000000","strokeWidth":1},
 "encoding":{"x":{"datum":71,"type":"quantitative","scale":{"domain":[-0.25,329.75],"nice":false,"zero":false},"axis":null},"x2":{"datum":329.75},
 "y":{"field":"p","type":"quantitative","scale":{"domain":[0.81885,0.85516],"nice":false,"zero":false},"axis":null}}},
{"data":{"name":"fib"},"mark":{"type":"text","align":"right","baseline":"bottom","dy":-1,"color":"#000000","fontSize":10},
 "encoding":{"x":{"datum":329.25,"type":"quantitative","scale":{"domain":[-0.25,329.75],"nice":false,"zero":false},"axis":null},
 "y":{"field":"p","type":"quantitative","scale":{"domain":[0.81885,0.85516],"nice":false,"zero":false},"axis":null},"text":{"field":"t"}}},
{"data":{"name":"tl"},"mark":{"type":"line","color":"#FF0000","strokeWidth":2},
 "encoding":{"x":{"field":"i","type":"quantitative","scale":{"domain":[-0.25,329.75],"nice":false,"zero":false},"axis":null},
 "y":{"field":"p","type":"quantitative","scale":{"domain":[0.81885,0.85516],"nice":false,"zero":false},"axis":null},"detail":{"field":"id"}}},
{"data":{"name":"dl"},"mark":{"type":"line","color":"#000000","strokeWidth":1,"strokeDash":[2,3]},
 "encoding":{"x":{"field":"i","type":"quantitative","scale":{"domain":[-0.25,329.75],"nice":false,"zero":false},"axis":null},
 "y":{"field":"p","type":"quantitative","scale":{"domain":[0.81885,0.85516],"nice":false,"zero":false},"axis":null}}},
{"data":{"name":"bars"},"mark":{"type":"rule","strokeWidth":1},
 "encoding":{"x":{"field":"i","type":"quantitative","scale":{"domain":[-0.25,329.75],"nice":false,"zero":false},"axis":null},
 "y":{"field":"l","type":"quantitative","scale":{"domain":[0.81885,0.85516],"nice":false,"zero":false},"axis":null},
 "y2":{"field":"h"},
 "color":{"condition":{"test":"datum.c>=datum.o","value":"#008000"},"value":"#FF4500"}}},
{"data":{"name":"bars"},"mark":{"type":"bar","width":3},
 "encoding":{"x":{"field":"i","type":"quantitative","scale":{"domain":[-0.25,329.75],"nice":false,"zero":false},"axis":null},
 "y":{"field":"o","type":"quantitative","scale":{"domain":[0.81885,0.85516],"nice":false,"zero":false},"axis":null},"y2":{"field":"c"},
 "color":{"condition":{"test":"datum.c>=datum.o","value":"#008000"},"value":"#FF4500"}}},
{"data":{"name":"ma"},"transform":[{"filter":"datum.s=='y'"}],"mark":{"type":"line","color":"#FFD700","strokeWidth":3,"interpolate":"monotone"},
 "encoding":{"x":{"field":"i","type":"quantitative","scale":{"domain":[-0.25,329.75],"nice":false,"zero":false},"axis":null},
 "y":{"field":"p","type":"quantitative","scale":{"domain":[0.81885,0.85516],"nice":false,"zero":false},"axis":null}}},
{"data":{"name":"ma"},"transform":[{"filter":"datum.s=='m'"}],"mark":{"type":"line","color":"#FF00FF","strokeWidth":2,"interpolate":"monotone"},
 "encoding":{"x":{"field":"i","type":"quantitative","scale":{"domain":[-0.25,329.75],"nice":false,"zero":false},"axis":null},
 "y":{"field":"p","type":"quantitative","scale":{"domain":[0.81885,0.85516],"nice":false,"zero":false},"axis":null}}},
{"data":{"name":"ma"},"transform":[{"filter":"datum.s=='c'"}],"mark":{"type":"line","color":"#40E0D0","strokeWidth":2,"interpolate":"monotone"},
 "encoding":{"x":{"field":"i","type":"quantitative","scale":{"domain":[-0.25,329.75],"nice":false,"zero":false},"axis":null},
 "y":{"field":"p","type":"quantitative","scale":{"domain":[0.81885,0.85516],"nice":false,"zero":false},"axis":null}}},
{"data":{"name":"fr"},"mark":{"type":"point","filled":true,"size":121,"fill":"#B8B8B8","stroke":"#7A7A7A","strokeWidth":0.6,"opacity":1},
 "encoding":{"x":{"field":"i","type":"quantitative","scale":{"domain":[-0.25,329.75],"nice":false,"zero":false},"axis":null},
 "y":{"field":"p","type":"quantitative","scale":{"domain":[0.81885,0.85516],"nice":false,"zero":false},"axis":null},
 "shape":{"field":"d","type":"nominal","legend":null,"scale":{"domain":["up","dn"],"range":["M0,-1L0.85,0.8L0,0.35L-0.85,0.8Z","M0,1L0.85,-0.8L0,-0.35L-0.85,-0.8Z"]}}}},
{"data":{"values":[{}]},"mark":{"type":"text","align":"left","baseline":"middle","color":"#000000","fontSize":10},
 "encoding":{"x":{"datum":1,"type":"quantitative","scale":{"domain":[-0.25,329.75],"nice":false,"zero":false},"axis":null},
 "y":{"datum":0.85452,"type":"quantitative","scale":{"domain":[0.81885,0.85516],"nice":false,"zero":false},"axis":null},
 "text":{"value":"EURGBP,H4\u00a0\u00a0 0.8243 0.8250 0.8232 0.8244"}}},
{"data":{"name":"lv"},"mark":{"type":"tick","orient":"horizontal","size":38,"thickness":12,"opacity":1},
 "encoding":{"x":{"datum":335,"type":"quantitative","scale":{"domain":[-0.25,329.75],"nice":false,"zero":false},"axis":null},
 "y":{"field":"p","type":"quantitative","scale":{"domain":[0.81885,0.85516],"nice":false,"zero":false},"axis":null},
 "color":{"condition":[{"test":"datum.k=='g'","value":"#006400"},{"test":"datum.k=='r'","value":"#FF0000"}],"value":"#000000"}}},
{"data":{"name":"lv"},"mark":{"type":"text","align":"left","baseline":"middle","color":"#FFFFFF","fontSize":10},
 "encoding":{"x":{"datum":330.75,"type":"quantitative","scale":{"domain":[-0.25,329.75],"nice":false,"zero":false},"axis":null},
 "y":{"field":"p","type":"quantitative","scale":{"domain":[0.81885,0.85516],"nice":false,"zero":false},"axis":null},
 "text":{"field":"p","type":"quantitative","format":".4f"}}}
]
},
{
"width":1320,"height":121,
"resolve":{"axis":{"x":"independent","y":"independent"}},
"layer":[
{"data":{"name":"bars"},"mark":{"type":"bar","width":3,"color":"#4682B4"},
 "encoding":{"x":{"field":"i","type":"quantitative","scale":{"domain":[-0.25,329.75],"nice":false,"zero":false},
   "axis":{"title":null,"values":[0,16,32,48,64,80,96,112,128,144,160,176,192,208,224,240,256],"labelExpr":"['8 Feb 2012','13 Feb 04:00','15 Feb 20:00','20 Feb 12:00','23 Feb 04:00','27 Feb 20:00','1 Mar 12:00','6 Mar 04:00','8 Mar 20:00','13 Mar 12:00','16 Mar 04:00','20 Mar 20:00','23 Mar 12:00','28 Mar 04:00','30 Mar 20:00','4 Apr 12:00','9 Apr 04:00'][round(datum.value/16)]","labelAlign":"left","labelFontSize":9.5,"labelOverlap":false,"labelFlush":false,"labelBound":false,"tickSize":4,"labelPadding":1}},
 "y":{"field":"m","type":"quantitative","scale":{"domain":[-0.00355,0.00375],"nice":false,"zero":false},
   "axis":{"orient":"right","title":null,"values":[0.00375,0,-0.00355],"labels":false,"tickSize":4}},
 "y2":{"datum":0}}},
{"data":{"name":"sig"},"mark":{"type":"line","color":"#FF0000","strokeWidth":2,"interpolate":"monotone"},
 "encoding":{"x":{"field":"i","type":"quantitative","scale":{"domain":[-0.25,329.75],"nice":false,"zero":false},"axis":null},
 "y":{"field":"v","type":"quantitative","scale":{"domain":[-0.00355,0.00375],"nice":false,"zero":false},"axis":null}}},
{"data":{"values":[{}]},"mark":{"type":"rect","color":"#4682B4"},
 "encoding":{"x":{"datum":0.5,"type":"quantitative","scale":{"domain":[-0.25,329.75],"nice":false,"zero":false},"axis":null},"x2":{"datum":37.25},
 "y":{"datum":0.00351,"type":"quantitative","scale":{"domain":[-0.00355,0.00375],"nice":false,"zero":false},"axis":null},"y2":{"datum":0.00278}}},
{"data":{"values":[{}]},"mark":{"type":"text","align":"left","baseline":"middle","color":"#000000","fontSize":9},
 "encoding":{"x":{"datum":0.9,"type":"quantitative","scale":{"domain":[-0.25,329.75],"nice":false,"zero":false},"axis":null},
 "y":{"datum":0.00315,"type":"quantitative","scale":{"domain":[-0.00355,0.00375],"nice":false,"zero":false},"axis":null},
 "text":{"value":"MACD(9,20,5) -0.00084 -0.00107"}}},
{"data":{"values":[{}]},"mark":{"type":"text","align":"left","baseline":"middle","color":"#000000","fontSize":10},
 "encoding":{"x":{"datum":0.9,"type":"quantitative","scale":{"domain":[-0.25,329.75],"nice":false,"zero":false},"axis":null},
 "y":{"datum":-0.00301,"type":"quantitative","scale":{"domain":[-0.00355,0.00375],"nice":false,"zero":false},"axis":null},
 "text":{"value":"MetaTrader, © 2001-2011 MetaQuotes Software Corp."}}},
{"data":{"name":"ml"},"mark":{"type":"tick","orient":"horizontal","size":40,"thickness":11,"opacity":1,"color":"#4682B4"},
 "encoding":{"x":{"datum":335.5,"type":"quantitative","scale":{"domain":[-0.25,329.75],"nice":false,"zero":false},"axis":null},
 "y":{"field":"p","type":"quantitative","scale":{"domain":[-0.00355,0.00375],"nice":false,"zero":false},"axis":null}}},
{"data":{"name":"ml"},"mark":{"type":"text","align":"left","baseline":"middle","color":"#000000","fontSize":10},
 "encoding":{"x":{"datum":330.75,"type":"quantitative","scale":{"domain":[-0.25,329.75],"nice":false,"zero":false},"axis":null},
 "y":{"field":"p","type":"quantitative","scale":{"domain":[-0.00355,0.00375],"nice":false,"zero":false},"axis":null},
 "text":{"field":"t"}}}
]
}
]
}
